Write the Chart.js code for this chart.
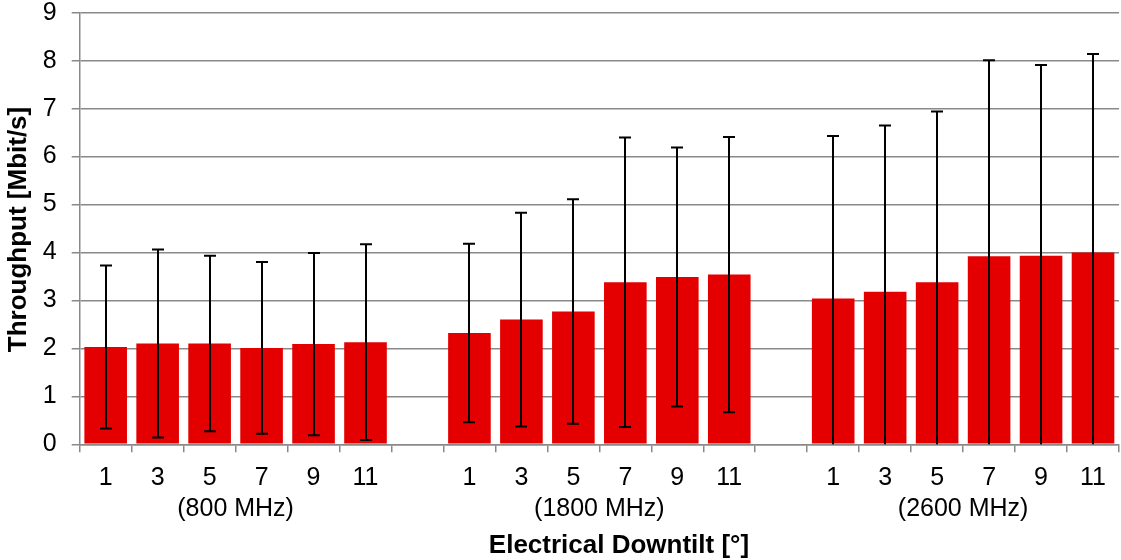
<!DOCTYPE html>
<html>
<head>
<meta charset="utf-8">
<script src="https://cdn.jsdelivr.net/npm/chart.js@4.4.1/dist/chart.umd.min.js"></script>
<style>
  html, body { margin: 0; padding: 0; background: #fff; }
  canvas { display: block; }
</style>
</head>
<body>
<canvas id="chart" width="1121" height="560"></canvas>
<script>
// Downtilt values per band, one gap slot between the bands
const tiltLabels = ["1", "3", "5", "7", "9", "11"];
const bandLabels = ["(800 MHz)", "(1800 MHz)", "(2600 MHz)"];

// Mean throughput [Mbit/s]
const mean800 = [2.03, 2.10, 2.10, 2.01, 2.09, 2.13];
const mean1800 = [2.32, 2.60, 2.77, 3.38, 3.49, 3.54];
const mean2600 = [3.04, 3.18, 3.38, 3.92, 3.93, 4.00];

// Standard deviation (symmetric error bars)
const sd800 = [1.70, 1.96, 1.83, 1.79, 1.90, 2.04];
const sd1800 = [1.86, 2.23, 2.34, 3.02, 2.70, 2.87];
const sd2600 = [3.39, 3.47, 3.56, 4.09, 3.98, 4.14];

const yTicks = [0, 1, 2, 3, 4, 5, 6, 7, 8, 9];

const FONT = "'Liberation Sans', Arial, sans-serif";
const GRID = "#898989";

let labels = [...tiltLabels, "", ...tiltLabels, "", ...tiltLabels];
let means = [...mean800, null, ...mean1800, null, ...mean2600];
let errors = [...sd800, null, ...sd1800, null, ...sd2600];

// Error bars (mean +- sd), clipped to the plot area
const errorBars = {
    id: "errorBars",
    afterDatasetsDraw(chart) {
        const { ctx, chartArea } = chart;
        const y = chart.scales.y;
        const meta = chart.getDatasetMeta(0);
        ctx.save();
        ctx.beginPath();
        ctx.rect(chartArea.left, chartArea.top - 2, chartArea.right - chartArea.left, chartArea.bottom - chartArea.top + 2);
        ctx.clip();
        ctx.strokeStyle = "#000";
        ctx.lineWidth = 2;
        meta.data.forEach((bar, i) => {
            if (means[i] == null) return;
            const top = y.getPixelForValue(means[i] + errors[i]);
            const bot = y.getPixelForValue(means[i] - errors[i]);
            const x = Math.round(bar.x);
            ctx.beginPath();
            ctx.moveTo(x, top);
            ctx.lineTo(x, bot);
            ctx.moveTo(x - 6, top);
            ctx.lineTo(x + 6, top);
            ctx.moveTo(x - 6, bot);
            ctx.lineTo(x + 6, bot);
            ctx.stroke();
        });
        ctx.restore();
    }
};

// Band labels under each group and the axis titles
const axisText = {
    id: "axisText",
    afterDraw(chart) {
        const { ctx, chartArea } = chart;
        const x = chart.scales.x;
        ctx.save();
        ctx.fillStyle = "#000";
        ctx.textAlign = "center";
        ctx.textBaseline = "middle";
        ctx.font = "25px " + FONT;
        bandLabels.forEach((txt, g) => {
            const cx = x.getPixelForValue(g * 7 + 2.5);
            ctx.fillText(txt, cx, 509);
        });
        ctx.font = "bold 26px " + FONT;
        ctx.fillText("Electrical Downtilt [°]", 619, 546);
        ctx.translate(19, (chartArea.top + chartArea.bottom) / 2 + 1);
        ctx.rotate(-Math.PI / 2);
        ctx.fillText("Throughput [Mbit/s]", 0, 0);
        ctx.restore();
    }
};

new Chart(document.getElementById("chart"), {
    type: "bar",
    data: {
        labels: labels,
        datasets: [{
            data: means,
            backgroundColor: "#E40000",
            borderWidth: 0,
            barPercentage: 0.82,
            categoryPercentage: 1.0
        }]
    },
    options: {
        responsive: false,
        animation: false,
        devicePixelRatio: 1,
        layout: { padding: { top: 12.7, right: 2, left: 0, bottom: 0 } },
        plugins: {
            legend: { display: false },
            tooltip: { enabled: false }
        },
        scales: {
            x: {
                grid: {
                    offset: true,
                    drawOnChartArea: false,
                    drawTicks: true,
                    tickLength: 8,
                    color: GRID,
                    lineWidth: 1.5
                },
                border: { color: GRID, width: 1.5 },
                ticks: {
                    autoSkip: false,
                    maxRotation: 0,
                    padding: 11,
                    color: "#000",
                    font: { family: FONT, size: 25, lineHeight: 1.2 }
                },
                afterFit: (scale) => {
                    scale.height = 115.7;
                    scale.paddingLeft = 0;
                    scale.paddingRight = 0;
                }
            },
            y: {
                min: 0,
                max: 9,
                afterBuildTicks: (scale) => { scale.ticks = yTicks.map(v => ({ value: v })); },
                grid: {
                    color: GRID,
                    lineWidth: 1.5,
                    tickLength: 8
                },
                border: { color: GRID, width: 1.5 },
                ticks: {
                    padding: 15,
                    color: "#000",
                    font: { family: FONT, size: 25, lineHeight: 1.2 }
                },
                afterFit: (scale) => {
                    scale.width = 79.7;
                    scale.paddingTop = 0;
                    scale.paddingBottom = 0;
                }
            }
        }
    },
    plugins: [errorBars, axisText]
});
</script>
</body>
</html>
